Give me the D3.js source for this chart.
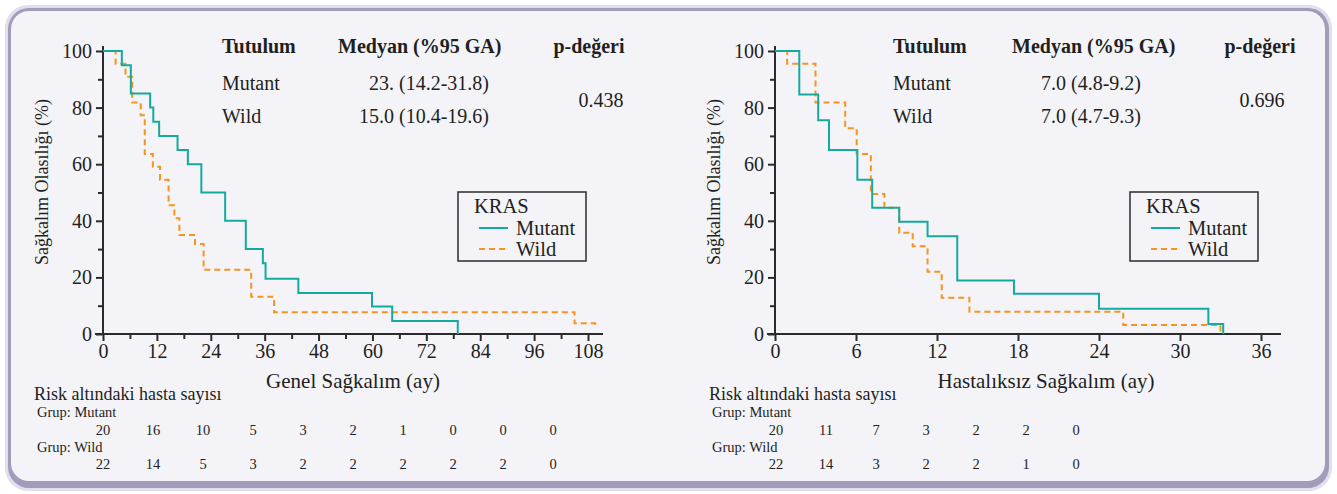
<!DOCTYPE html>
<html>
<head>
<meta charset="utf-8">
<script src="https://cdn.jsdelivr.net/npm/d3@7/dist/d3.min.js"></script>
<style>
  html, body { margin: 0; padding: 0; background: #ffffff; }
  svg { display: block; }
  text { font-family: "Liberation Serif", "DejaVu Serif", serif; fill: #231f20; }
</style>
</head>
<body>
<svg id="chart" width="1337" height="494" font-family="Liberation Serif, serif"></svg>
<script>
// Kaplan–Meier steps: [month, survival %] — each value holds from that month on
const osMutant = [[0,100],[4.2,95],[6.2,85],[10.5,80],[11.2,75],[12.5,70],[16.6,65],[18.9,60],[21.9,50],[27.2,40],[31.8,30],[35.6,25],[36.2,19.5],[43.5,14.5],[59.9,9.7],[64.4,4.6],[79,0]];
const osWild   = [[0,100],[2.8,95.5],[5.0,90.9],[6.5,81.8],[8.4,77.3],[9.3,63.6],[11.1,59.1],[12.7,54.5],[14.6,45.5],[15.9,40.9],[17.0,35],[20.5,31.8],[22.4,22.7],[33.0,13.2],[38.1,7.7],[105,3.8],[109.6,2.4]];
const dfsMutant = [[0,100],[1.8,84.6],[3.2,75.5],[4.0,65],[6.1,54.5],[7.2,44.6],[9.2,39.7],[11.3,34.5],[13.5,18.9],[17.7,14.2],[24.0,8.9],[32.1,3.5],[33.2,0]];
const dfsWild   = [[0,100],[0.9,95.5],[3.0,81.8],[5.2,72.7],[6.05,63.6],[7.1,49.5],[8.1,44.6],[9.2,35.8],[10.2,31],[11.3,22],[12.35,12.8],[14.4,7.9],[25.8,3.2],[33.0,0]];

// Axis ticks
const osTicks = [0,12,24,36,48,60,72,84,96,108];
const osMinor = [6,18,30,42,54,66,78,90,102];
const dfsTicks = [0,6,12,18,24,30,36];
const yTicks = [0,20,40,60,80,100];
const yMinor = [10,30,50,70,90];

// Summary table text
const groups = ["Mutant","Wild"];
const osMedians = ["23. (14.2-31.8)","15.0 (10.4-19.6)"];
const osP = "0.438";
const dfsMedians = ["7.0 (4.8-9.2)","7.0 (4.7-9.3)"];
const dfsP = "0.696";

// Numbers at risk
const osRiskMutant = [20,16,10,5,3,2,1,0,0,0];
const osRiskWild   = [22,14,5,3,2,2,2,2,2,0];
const dfsRiskMutant = [20,11,7,3,2,2,0];
const dfsRiskWild   = [22,14,3,2,2,1,0];

const colMutant = "#15aaa0";
const colWild = "#f7941d";
const axisCol = "#2b2b2b";
const serif = "'Liberation Serif', serif";

const svg = d3.select("#chart");

// Panel frame
svg.append("rect").attr("x",5).attr("y",5).attr("width",1327).attr("height",486).attr("rx",23).attr("fill","#e2deec");
svg.append("rect").attr("x",8).attr("y",8).attr("width",1321).attr("height",480).attr("rx",21).attr("fill","#a39bba");
svg.append("rect").attr("x",11).attr("y",11).attr("width",1314).attr("height",470).attr("rx",18).attr("fill","#f4f3f8");

function panel(cfg) {
  const g = svg.append("g");
  const x = d3.scaleLinear().domain(cfg.xDomain).range(cfg.xRange);
  const y = d3.scaleLinear().domain([0,100]).range([334,51]);
  const x0 = cfg.xRange[0];

  // y axis
  const yAxis = d3.axisLeft(y).tickValues(yTicks).tickSize(7).tickSizeOuter(0).tickPadding(4);
  const ya = g.append("g").attr("transform",`translate(${x0},0)`).call(yAxis);
  ya.attr("font-family", null).attr("font-size", null);
  ya.select(".domain").remove();
  ya.selectAll("line").attr("stroke",axisCol).attr("stroke-width",2);
  ya.selectAll("text").attr("font-size",20).attr("fill","#231f20");
  const ym = g.append("g").attr("transform",`translate(${x0},0)`).call(d3.axisLeft(y).tickValues(yMinor).tickSize(5).tickFormat(""));
  ym.select(".domain").remove();
  ym.selectAll("line").attr("stroke",axisCol).attr("stroke-width",2);
  g.append("line").attr("x1",x0).attr("x2",x0).attr("y1",46).attr("y2",y(0)).attr("stroke",axisCol).attr("stroke-width",2);

  // x axis
  const xAxis = d3.axisBottom(x).tickValues(cfg.ticks).tickSize(7).tickSizeOuter(0).tickPadding(3);
  const xa = g.append("g").attr("transform",`translate(0,${y(0)})`).call(xAxis);
  xa.attr("font-family", null).attr("font-size", null);
  xa.select(".domain").remove();
  xa.selectAll("line").attr("stroke",axisCol).attr("stroke-width",2);
  xa.selectAll("text").attr("font-size",20).attr("fill","#231f20");
  if (cfg.minor.length) {
    const xm = g.append("g").attr("transform",`translate(0,${y(0)})`).call(d3.axisBottom(x).tickValues(cfg.minor).tickSize(5).tickFormat(""));
    xm.select(".domain").remove();
    xm.selectAll("line").attr("stroke",axisCol).attr("stroke-width",2);
  }
  g.append("line").attr("x1",x0-8).attr("x2",cfg.axisEnd).attr("y1",y(0)).attr("y2",y(0)).attr("stroke",axisCol).attr("stroke-width",2);

  // axis titles
  g.append("text").attr("transform",`translate(${x0-61},${182}) rotate(-90)`)
    .attr("text-anchor","middle").attr("dominant-baseline","central").attr("font-size",18)
    .text("Sağkalım Olasılığı (%)");
  g.append("text").attr("x",cfg.titleX).attr("y",388).attr("text-anchor","middle").attr("font-size",21)
    .text(cfg.title);

  // survival curves
  const line = d3.line().x(d => x(d[0])).y(d => y(d[1])).curve(d3.curveStepAfter);
  g.append("path").datum(cfg.wild).attr("d",line).attr("fill","none")
    .attr("stroke",colWild).attr("stroke-width",2).attr("stroke-dasharray","6,4");
  g.append("path").datum(cfg.mutant).attr("d",line).attr("fill","none")
    .attr("stroke",colMutant).attr("stroke-width",2);

  // summary table
  const t = cfg.table;
  g.append("text").attr("x",t.c1).attr("y",53).attr("font-size",20).attr("font-weight","bold").text("Tutulum");
  g.append("text").attr("x",t.c2).attr("y",53).attr("font-size",20).attr("font-weight","bold").text("Medyan (%95 GA)");
  g.append("text").attr("x",t.c3).attr("y",53).attr("font-size",20).attr("font-weight","bold").attr("text-anchor","middle").text("p-değeri");
  groups.forEach((grp,i) => {
    const yy = 90 + i*33;
    g.append("text").attr("x",t.c1).attr("y",yy).attr("font-size",20).text(grp);
    g.append("text").attr("x",t.medEnd).attr("y",yy).attr("font-size",20).attr("text-anchor","end").text(cfg.medians[i]);
  });
  g.append("text").attr("x",t.pX).attr("y",107).attr("font-size",20).attr("text-anchor","middle").text(cfg.p);

  // legend
  const L = cfg.legend;
  g.append("rect").attr("x",L.x).attr("y",192).attr("width",128).attr("height",69)
    .attr("fill","none").attr("stroke","#2b2b2b").attr("stroke-width",1.5);
  g.append("text").attr("x",L.x+16).attr("y",213).attr("font-size",20.5).text("KRAS");
  g.append("line").attr("x1",L.x+21).attr("x2",L.x+50).attr("y1",228).attr("y2",228).attr("stroke",colMutant).attr("stroke-width",2);
  g.append("text").attr("x",L.x+58).attr("y",235).attr("font-size",20.5).text("Mutant");
  g.append("line").attr("x1",L.x+21).attr("x2",L.x+50).attr("y1",249).attr("y2",249).attr("stroke",colWild).attr("stroke-width",2).attr("stroke-dasharray","6,4");
  g.append("text").attr("x",L.x+58).attr("y",256).attr("font-size",20.5).text("Wild");

  // numbers at risk, one column per major x tick
  const R = cfg.risk;
  const rx = d3.scaleLinear().domain([0, R.mutant.length-1]).range([R.first, R.last]);
  g.append("text").attr("x",R.left).attr("y",400).attr("font-size",18).text("Risk altındaki hasta sayısı");
  g.append("text").attr("x",R.left+3).attr("y",417).attr("font-size",14.5).text("Grup: Mutant");
  g.append("text").attr("x",R.left+3).attr("y",452).attr("font-size",14.5).text("Grup: Wild");
  [[R.mutant,435],[R.wild,469]].forEach(([vals,yy]) => {
    g.selectAll(null).data(vals).enter().append("text")
      .attr("x",(d,i) => rx(i)).attr("y",yy).attr("font-size",14.5).attr("text-anchor","middle")
      .text(d => d);
  });
}

panel({
  xDomain:[0,108], xRange:[103,588], ticks:osTicks, minor:osMinor, axisEnd:603,
  title:"Genel Sağkalım (ay)", titleX:353,
  mutant:osMutant, wild:osWild,
  table:{c1:222, c2:338, c3:589, medEnd:489, pX:601},
  medians:osMedians, p:osP,
  legend:{x:458},
  risk:{left:34, first:103, last:553, mutant:osRiskMutant, wild:osRiskWild}
});

panel({
  xDomain:[0,36], xRange:[775,1261], ticks:dfsTicks, minor:[], axisEnd:1281,
  title:"Hastalıksız Sağkalım (ay)", titleX:1046,
  mutant:dfsMutant, wild:dfsWild,
  table:{c1:893, c2:1012, c3:1260, medEnd:1141, pX:1262},
  medians:dfsMedians, p:dfsP,
  legend:{x:1130},
  risk:{left:709, first:776, last:1076, mutant:dfsRiskMutant, wild:dfsRiskWild}
});

// keep every label in the serif face
svg.selectAll("text").style("font-family", serif);
</script>
</body>
</html>
